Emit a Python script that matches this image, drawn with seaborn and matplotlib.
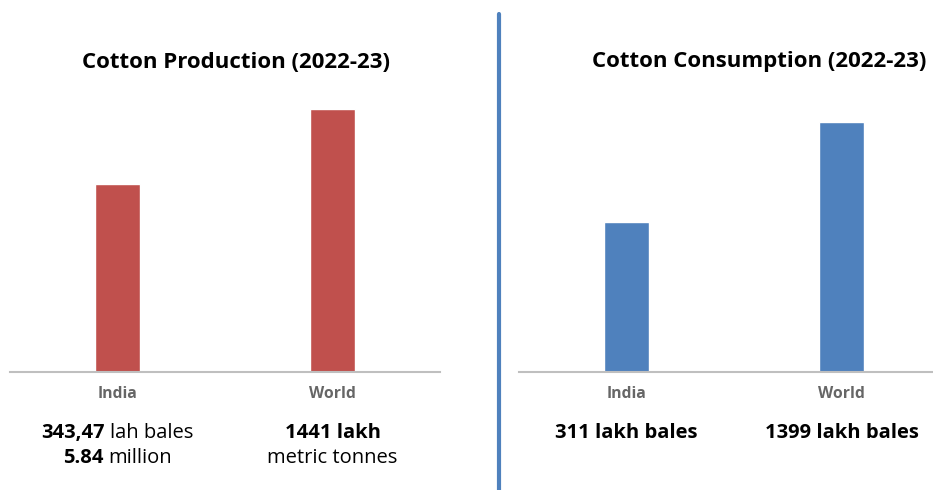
import matplotlib
matplotlib.use("Agg")
import matplotlib.pyplot as plt
import seaborn as sns
import pandas as pd

sns.set_style("white")
plt.rcParams['font.family'] = ['Open Sans', 'DejaVu Sans']

# data (bar heights are not drawn to scale in the original)
categories = ["India", "World"]
production_heights = [188, 263]
consumption_heights = [150, 250]
production_notes = [[("343,47", "lah bales"), ("5.84", "million")],
                    [("1441 lakh", ""), ("", "metric tonnes")]]
consumption_notes = [[("311 lakh bales", "")],
                     [("1399 lakh bales", "")]]
titles = ["Cotton Production (2022-23)", "Cotton Consumption (2022-23)"]

red = "#C0504D"
blue = "#4F81BD"

W, H = 933, 490
fig = plt.figure(figsize=(W / 100, H / 100), dpi=100)

def px_axes(left, bottom_px, width, height):
    # rectangle in pixels, y measured from the top of the image
    return fig.add_axes([left / W, 1 - bottom_px / H, width / W, height / H])

ax1 = px_axes(10, 372, 430, 282)
ax2 = px_axes(519, 372, 430, 282)

renderer = fig.canvas.get_renderer()

def two_part_line(ax, x, y_px, bold, normal, size=14.5):
    # bold part followed by regular part, centred on category x
    t1 = ax.text(0, 0, bold, fontsize=size, fontweight="bold", color="black",
                 va="baseline", ha="left", transform=None)
    t2 = ax.text(0, 0, normal, fontsize=size, color="black",
                 va="baseline", ha="left", transform=None)
    w1 = t1.get_window_extent(renderer).width if bold else 0
    w2 = t2.get_window_extent(renderer).width if normal else 0
    gap = 5 if (bold and normal) else 0
    total = w1 + gap + w2
    cx = ax.transData.transform((x, 0))[0]
    start = cx - total / 2
    y = H - y_px
    t1.set_position((start, y))
    t2.set_position((start + w1 + gap, y))

for ax, heights, color, title, notes in [
        (ax1, production_heights, red, titles[0], production_notes),
        (ax2, consumption_heights, blue, titles[1], consumption_notes)]:
    df = pd.DataFrame({"region": categories, "value": heights})
    sns.barplot(data=df, x="region", y="value", color=color, width=0.21,
                saturation=1, ax=ax)
    ax.set_xlim(-0.5, 1.5)
    ax.set_ylim(0, 282)
    ax.set_xlabel("")
    ax.set_ylabel("")
    ax.set_yticks([])
    for s in ["top", "left", "right"]:
        ax.spines[s].set_visible(False)
    ax.spines["bottom"].set_color("#BFBFBF")
    ax.spines["bottom"].set_linewidth(1.5)
    ax.tick_params(axis="x", length=0, pad=10, labelsize=11.3,
                   labelcolor="#666666")
    for lab in ax.get_xticklabels():
        lab.set_fontweight("bold")
    ax.patch.set_alpha(0)

    for i, lines in enumerate(notes):
        for j, (b, n) in enumerate(lines):
            base = 438 if len(lines) == 1 else 438 + j * 25
            two_part_line(ax, i, base, b, n)

fig.text(236 / W, 1 - 62 / H, titles[0], fontsize=16, fontweight="bold",
         ha="center", va="center", color="black")
fig.text(759 / W, 1 - 62 / H, titles[1], fontsize=16, fontweight="bold",
         ha="center", va="center", color="black")

# blue divider between the two panels
fig.add_artist(plt.Line2D([499 / W, 499 / W], [0, 1 - 14 / H],
                          color=blue, linewidth=3, transform=fig.transFigure))

fig.savefig("out.png", dpi=100)
